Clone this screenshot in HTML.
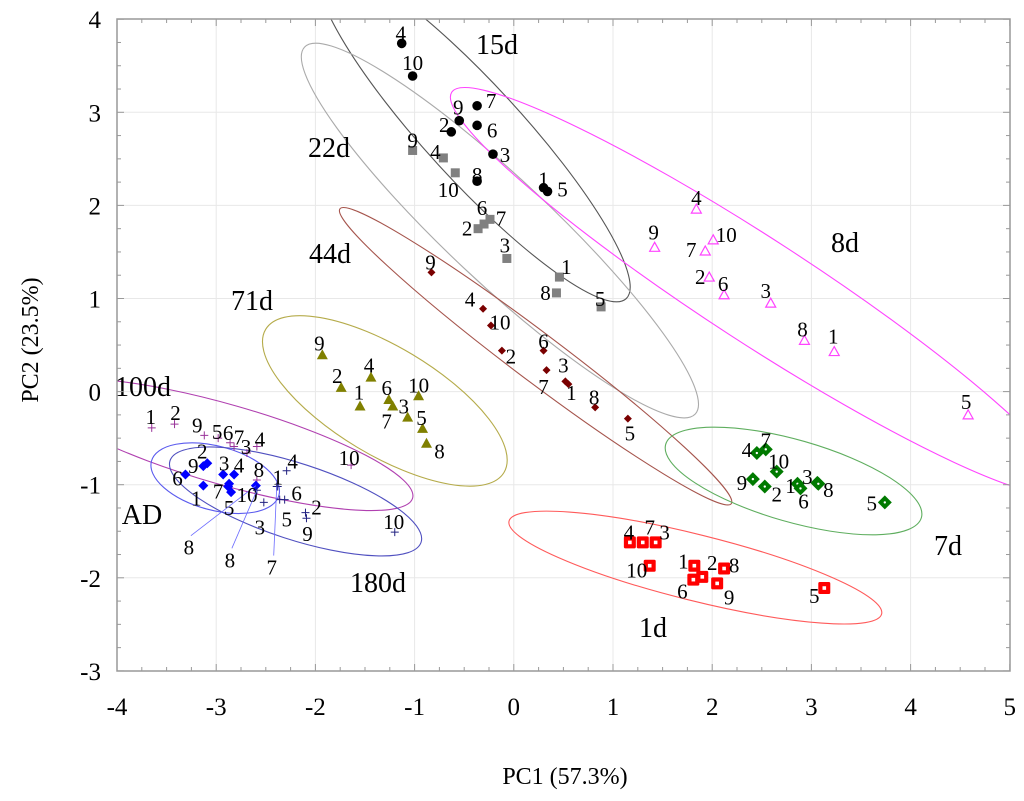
<!DOCTYPE html>
<html><head><meta charset="utf-8"><style>
html,body{margin:0;padding:0;background:#fff;}
svg{display:block;font-family:"Liberation Serif",serif;}
</style></head><body>
<svg id="chart" width="1024" height="801" viewBox="0 0 1024 801">
<defs><clipPath id="plotclip"><rect x="117" y="19" width="893" height="652"/></clipPath></defs>
<g id="grid"></g>
<g id="ellipses" clip-path="url(#plotclip)"></g>
<g id="marks"></g>
<g id="axes"></g>
<text x="565" y="784" font-size="24" text-anchor="middle">PC1 (57.3%)</text>
<text transform="translate(38,340) rotate(-90)" font-size="24" text-anchor="middle">PC2 (23.5%)</text>
</svg>
<script>
const xTicks=[-4,-3,-2,-1,0,1,2,3,4,5];
const yTicks=[-3,-2,-1,0,1,2,3,4];
const groups=["15d","22d","8d","44d","71d","100d","AD","180d","7d","1d"];
const ptLabels=["1","2","3","4","5","6","7","8","9","10"];
const xs15=[0.30,-0.63,-0.21,-1.13,0.34,-0.37,-0.37,-0.37,-0.55,-1.02];
const ys15=[2.19,2.79,2.55,3.74,2.15,2.86,3.07,2.26,2.91,3.39];
const xs22=[0.46,-0.36,-0.07,-0.71,0.88,-0.30,-0.24,0.43,-1.02,-0.59];
const ys22=[1.23,1.75,1.43,2.51,0.91,1.80,1.85,1.06,2.59,2.35];
const xs8=[3.23,1.97,2.59,1.84,4.58,2.12,1.93,2.93,1.42,2.01];
const ys8=[0.43,1.23,0.95,1.96,-0.25,1.04,1.51,0.55,1.55,1.63];
const xs44=[0.55,-0.12,0.52,-0.31,1.15,0.30,0.33,0.82,-0.83,-0.23];
const ys44=[0.08,0.44,0.11,0.89,-0.29,0.44,0.23,-0.17,1.28,0.71];
const xs71=[-1.55,-1.74,-1.22,-1.44,-0.92,-1.26,-1.07,-0.88,-1.93,-0.96];
const ys71=[-0.16,0.04,-0.16,0.15,-0.40,-0.09,-0.28,-0.56,0.39,-0.05];
const xs100=[-3.65,-3.42,-2.69,-2.59,-2.98,-2.86,-2.82,-2.59,-3.12,-1.64];
const ys100=[-0.39,-0.35,-0.66,-0.59,-0.50,-0.55,-0.59,-0.95,-0.47,-0.79];
const xsAD=[-3.13,-3.09,-2.93,-2.82,-2.85,-3.31,-2.88,-2.60,-3.13,-2.87];
const ysAD=[-1.01,-0.77,-0.89,-0.89,-1.08,-0.89,-1.02,-1.01,-0.80,-0.99];
const xs180=[-2.38,-2.10,-2.52,-2.29,-2.36,-2.31,-2.39,-2.59,-2.09,-1.20];
const ys180=[-1.02,-1.30,-1.19,-0.85,-1.16,-1.16,-1.02,-1.06,-1.36,-1.51];
const xs7=[2.86,2.53,3.06,2.45,3.74,2.89,2.54,3.07,2.41,2.65];
const ys7=[-0.99,-1.02,-0.98,-0.66,-1.19,-1.04,-0.62,-0.99,-0.94,-0.86];
const xs1=[1.82,1.90,1.43,1.17,3.13,1.81,1.30,2.12,2.05,1.37];
const ys1=[-1.87,-1.99,-1.62,-1.62,-2.11,-2.02,-1.62,-1.90,-2.06,-1.87];
const ellCx=[-0.40,-0.14,2.46,0.22,-1.30,-2.90,-3.01,-2.20,2.82,1.83];
const ellCy=[2.78,1.73,1.08,0.38,-0.10,-0.57,-0.93,-1.18,-0.96,-1.89];

const X=v=>117+(v+4)*99.2;
const Y=v=>391.6-v*93.1;
const NS="http://www.w3.org/2000/svg";
function mk(tag,attrs,parent){const e=document.createElementNS(NS,tag);for(const k in attrs)e.setAttribute(k,attrs[k]);parent.appendChild(e);return e;}
const gGrid=document.getElementById('grid'),gAx=document.getElementById('axes'),gEl=document.getElementById('ellipses'),gM=document.getElementById('marks');
const L=117,R=1010,T=19,B=671;
xTicks.forEach(t=>{const x=X(t);
 if(t>-4&&t<5){const g=mk('line',{x1:x,x2:x,y1:T,y2:B,stroke:'#e8e8e8','stroke-width':1},gGrid);
 
 }
 const tx=mk('text',{x:x,y:715,'font-size':25,'text-anchor':'middle'},gAx);tx.textContent=t;
 
 
});
yTicks.forEach(t=>{const y=Y(t);
 if(t>-3&&t<4){const g=mk('line',{x1:L,x2:R,y1:y,y2:y,stroke:'#e8e8e8','stroke-width':1},gGrid);
 
 }
 const tx=mk('text',{x:101,y:y+9,'font-size':25,'text-anchor':'end'},gAx);tx.textContent=t;
 
 
});
mk('rect',{x:L,y:T,width:R-L,height:B-T,fill:'none',stroke:'#999','stroke-width':1.5},gAx);
for(let v=-4;v<=5.001;v+=0.25){const x=X(v);const maj=Math.abs(v-Math.round(v))<1e-6;const len=maj?7:4;
 mk('line',{x1:x,x2:x,y1:B,y2:B-len,stroke:'#999'},gAx);mk('line',{x1:x,x2:x,y1:T,y2:T+len,stroke:'#999'},gAx);}
for(let v=-3;v<=4.001;v+=0.25){const y=Y(v);const maj=Math.abs(v-Math.round(v))<1e-6;const len=maj?7:4;
 mk('line',{x1:L,x2:L+len,y1:y,y2:y,stroke:'#999'},gAx);mk('line',{x1:R,x2:R-len,y1:y,y2:y,stroke:'#999'},gAx);}

const ellA=[225,268,365,245,139,194,66,132,133,192],ellB=[48,52,52,24,54,40,32,38,41,33],ellAng=[47.5,43.2,33,37,31,16,15,18,16,14];
const ellCol=['#555','#aaa','#ff44ff','#a5544c','#b5ab4a','#b040b0','#5a5aee','#5050c0','#5fae5f','#ff5a5a'];
groups.forEach((g,i)=>{const e=mk('ellipse',{cx:X(ellCx[i]),cy:Y(ellCy[i]),rx:ellA[i],ry:ellB[i],fill:'none',stroke:ellCol[i],'stroke-width':1.1,transform:`rotate(${ellAng[i]} ${X(ellCx[i])} ${Y(ellCy[i])})`},gEl);
 
 });

const series=[
 {n:'15d',xs:xs15,ys:ys15,m:'circle',c:'#000',off:[[0,-8],[-7,-7],[12,1],[-1,-10],[15,-2],[15,5],[14,-5],[0,-6],[-1,-13],[0,-13]]},
 {n:'22d',xs:xs22,ys:ys22,m:'square',c:'#808080',off:[[7,-10],[-11,0],[-2,-13],[-8,-6],[-1,-8],[-2,-16],[11,-1],[-11,0],[0,-10],[-7,17]]},
 {n:'8d',xs:xs8,ys:ys8,m:'tri-open',c:'#ff44ff',off:[[-1,-15],[-9,0],[-5,-12],[0,-11],[-2,-13],[-1,-11],[-14,-1],[-2,-11],[-1,-15],[13,-5]]},
 {n:'44d',xs:xs44,ys:ys44,m:'diam-s',c:'#7a0000',off:[[3,9],[9,6],[-2,-16],[-13,-9],[2,15],[0,-9],[-3,17],[-1,-10],[-1,-10],[9,-3]]},
 {n:'71d',xs:xs71,ys:ys71,m:'tri',c:'#808000',off:[[-1,-14],[-4,-12],[11,0],[-2,-12],[-1,-11],[-2,-12],[-21,4],[13,8],[-3,-12],[0,-11]]},
 {n:'100d',xs:xs100,ys:ys100,m:'plus',c:'#993399',off:[[-1,-11],[1,-11],[-1,-6],[3,-7],[-1,-6],[-2,-10],[5,-9],[2,-10],[-7,-10],[-2,-7]]},
 {n:'AD',xs:xsAD,ys:ysAD,m:'diam',c:'#0000ff',off:[[-7,13],[-5,-12],[1,-11],[5,-9],[-2,16],[-8,4],[-10,5],[-67,62],[-10,0],[18,11]]},
 {n:'180d',xs:xs180,ys:ys180,m:'plus',c:'#202080',off:[[0,-9],[11,-5],[-4,25],[6,-9],[7,20],[12,-6],[-5,81],[-27,70],[1,16],[-1,-10]]},
 {n:'7d',xs:xs7,ys:ys7,m:'diam-g',c:'#007a00',off:[[-7,2],[12,8],[-10,-6],[-10,-3],[-13,1],[3,13],[0,-9],[10,6],[-11,4],[2,-10]]},
 {n:'1d',xs:xs1,ys:ys1,m:'sq-red',c:'#ff0000',off:[[-11,-4],[10,-14],[9,-10],[-1,-10],[-10,8],[-11,12],[7,-15],[10,-3],[12,14],[-13,5]]}
];
const leaders={'AD-8':1,'180d-7':1,'180d-8':1};
series.forEach(s=>{
 s.xs.forEach((xv,i)=>{
  const px=X(xv),py=Y(s.ys[i]);let e;
  if(s.m==='circle')e=mk('circle',{cx:px,cy:py,r:4.8,fill:s.c},gM);
  else if(s.m==='square')e=mk('rect',{x:px-4.5,y:py-4.5,width:9,height:9,fill:s.c},gM);
  else if(s.m==='tri-open')e=mk('path',{d:`M${px},${py-5}L${px+5},${py+4}L${px-5},${py+4}Z`,fill:'none',stroke:s.c,'stroke-width':1.2},gM);
  else if(s.m==='tri')e=mk('path',{d:`M${px},${py-6}L${px+5.5},${py+4}L${px-5.5},${py+4}Z`,fill:s.c},gM);
  else if(s.m==='diam-s')e=mk('path',{d:`M${px},${py-4}L${px+4},${py}L${px},${py+4}L${px-4},${py}Z`,fill:s.c},gM);
  else if(s.m==='diam')e=mk('path',{d:`M${px},${py-5}L${px+5},${py}L${px},${py+5}L${px-5},${py}Z`,fill:s.c},gM);
  else if(s.m==='diam-g'){e=mk('path',{d:`M${px},${py-7}L${px+7},${py}L${px},${py+7}L${px-7},${py}Z`,fill:s.c},gM);mk('circle',{cx:px,cy:py,r:1.2,fill:'#fff'},gM);}
  else if(s.m==='sq-red'){e=mk('rect',{x:px-6,y:py-6,width:12,height:12,fill:s.c,rx:1.5},gM);mk('rect',{x:px-1.8,y:py-1.8,width:3.6,height:3.6,fill:'#fff'},gM);}
  else if(s.m==='plus')e=mk('path',{d:`M${px-4},${py}H${px+4}M${px},${py-4}V${py+4}`,stroke:s.c,'stroke-width':1},gM);
  
  
  const o=s.off[i];const lx=px+o[0],ly=py+o[1];
  if(leaders[s.n+'-'+ptLabels[i]]){const ld=mk('line',{x1:px,y1:py,x2:lx+2,y2:ly-12,stroke:'#6b6bff','stroke-width':0.8},gM);
   
   }
  const t=mk('text',{x:lx,y:ly+7,'font-size':21,'text-anchor':'middle'},gM);t.textContent=ptLabels[i];
  
  
 });
});
const titlePos=[[497,54],[329,157],[845,252],[330,263],[252,310],[143,396],[142,524],[378,592],[948,555],[653,637]];
groups.forEach((g,i)=>{const t=mk('text',{x:titlePos[i][0],y:titlePos[i][1],'font-size':28,'text-anchor':'middle'},gM);t.textContent=g;
 
 });
</script>
</body></html>
